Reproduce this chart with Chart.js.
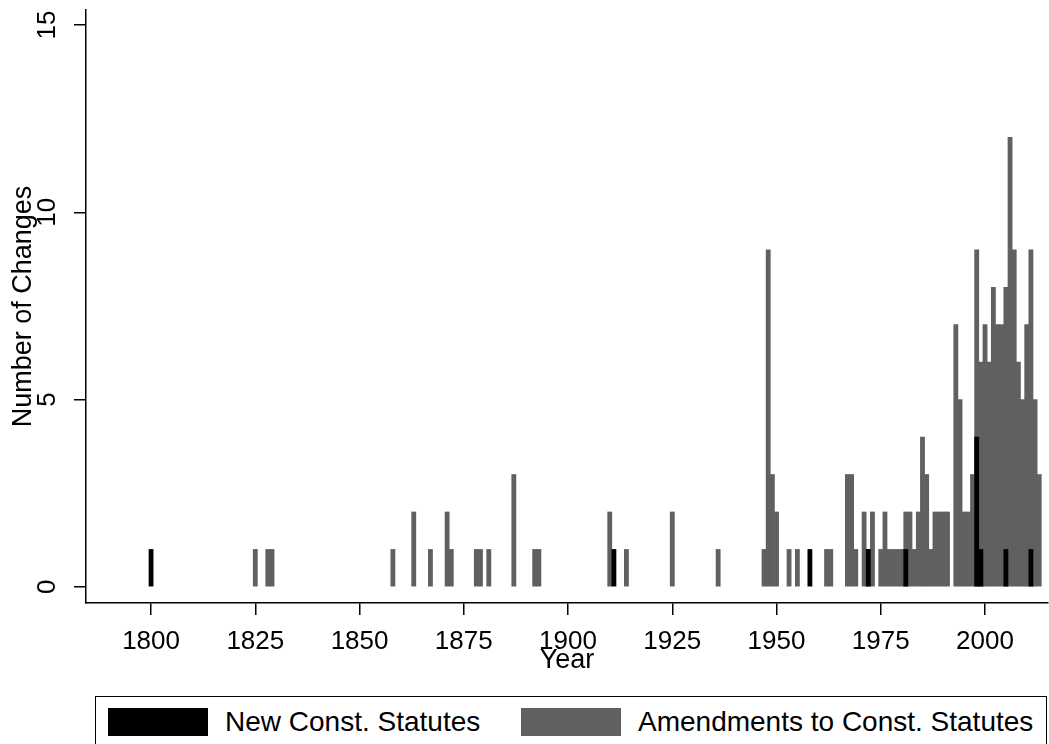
<!DOCTYPE html>
<html>
<head>
<meta charset="utf-8">
<title>Number of Changes by Year</title>
<script src="https://cdn.jsdelivr.net/npm/chart.js@4.4.1/dist/chart.umd.min.js"></script>
<style>
  body { margin: 0; background: #fff; overflow: hidden; }
  #wrap { position: relative; width: 1049px; height: 744px; overflow: hidden; }
  #chart-box { position: absolute; left: 0; top: 0; width: 1049px; height: 690px; }
  #legend {
    position: absolute; left: 95px; top: 696px; width: 952px; height: 70px;
    border: 1.5px solid #000; box-sizing: border-box;
    font-family: "Liberation Sans", Arial, sans-serif; font-size: 28px; color: #000;
  }
  #legend .swatch { position: absolute; top: 11px; width: 100px; height: 28px; }
  #legend .label { position: absolute; top: 11px; height: 28px; line-height: 28px; white-space: nowrap; }
</style>
</head>
<body>
<div id="wrap">
  <div id="chart-box"><canvas id="changes-chart" width="1049" height="690"></canvas></div>
  <div id="legend">
    <div class="swatch" style="left:12px; background:#000"></div>
    <div class="label" style="left:129px">New Const. Statutes</div>
    <div class="swatch" style="left:425px; background:#606060"></div>
    <div class="label" style="left:542px">Amendments to Const. Statutes</div>
  </div>
</div>
<script>
// yearly counts of new constitutional statutes
const newYears = [1800, 1911, 1958, 1972, 1981, 1998, 1999, 2005, 2011];
const newCounts = [1, 1, 1, 1, 1, 4, 1, 1, 1];

// yearly counts of amendments to constitutional statutes
const amendYears = [
  1825, 1828, 1829, 1858, 1863, 1867, 1871, 1872, 1878, 1879, 1881, 1887, 1892, 1893,
  1910, 1914, 1925, 1936, 1947, 1948, 1949, 1950, 1953, 1955, 1962, 1963,
  1967, 1968, 1969, 1971, 1972, 1973, 1975, 1976, 1977, 1978, 1979, 1980,
  1981, 1982, 1983, 1984, 1985, 1986, 1987, 1988, 1989, 1990, 1991,
  1993, 1994, 1995, 1996, 1997, 1998, 1999, 2000, 2001, 2002, 2003, 2004,
  2005, 2006, 2007, 2008, 2009, 2010, 2011, 2012, 2013
];
const amendCounts = [
  1, 1, 1, 1, 2, 1, 2, 1, 1, 1, 1, 3, 1, 1,
  2, 1, 2, 1, 1, 9, 3, 2, 1, 1, 1, 1,
  3, 3, 1, 2, 1, 2, 1, 2, 1, 1, 1, 1,
  2, 2, 1, 2, 4, 3, 1, 2, 2, 2, 2,
  7, 5, 2, 2, 3, 9, 6, 7, 6, 8, 7, 7,
  8, 12, 9, 6, 5, 7, 9, 5, 3
];

const yearTicks = [1800, 1825, 1850, 1875, 1900, 1925, 1950, 1975, 2000];
const countTicks = [0, 5, 10, 15];

Chart.defaults.font.family = '"Liberation Sans", Arial, sans-serif';
Chart.defaults.color = "#000";

function toPoints(years, counts) {
  return years.map((yr, i) => ({ x: yr, y: counts[i] }));
}

const changesChart = new Chart(document.getElementById("changes-chart"), {
  type: "bar",
  data: {
    datasets: [
      {
        label: "New Const. Statutes",
        data: toPoints(newYears, newCounts),
        backgroundColor: "#000000",
      },
      {
        label: "Amendments to Const. Statutes",
        data: toPoints(amendYears, amendCounts),
        backgroundColor: "#606060",
      },
    ],
  },
  options: {
    responsive: false,
    animation: false,
    devicePixelRatio: 1,
    layout: { padding: { top: 10, right: 1 } },
    datasets: { bar: { barPercentage: 1, categoryPercentage: 1, borderWidth: 0 } },
    plugins: { legend: { display: false }, tooltip: { enabled: false } },
    scales: {
      x: {
        type: "linear",
        stacked: true,
        offset: false,
        min: 1784.4,
        max: 2015.1,
        afterBuildTicks: (s) => { s.ticks = yearTicks.map((v) => ({ value: v })); },
        afterFit: (s) => { s.height = 87; s.paddingLeft = 0; s.paddingRight = 0; },
        ticks: { callback: (v) => String(v), font: { size: 26 }, padding: 11, maxRotation: 0, autoSkip: false },
        grid: { offset: false, drawOnChartArea: false, tickLength: 12, color: "#000", lineWidth: 1.5 },
        border: { color: "#000", width: 1.5 },
        title: { display: true, text: "Year", font: { size: 27 }, padding: { top: 0, bottom: 13 } },
      },
      y: {
        min: -0.43,
        max: 15.4,
        afterBuildTicks: (s) => { s.ticks = countTicks.map((v) => ({ value: v })); },
        afterFit: (s) => { s.width = 86; s.paddingTop = 0; s.paddingBottom = 0; },
        ticks: { minRotation: 90, maxRotation: 90, crossAlign: "center", padding: 12, font: { size: 26 } },
        grid: { drawOnChartArea: false, tickLength: 12, color: "#000", lineWidth: 1.5 },
        border: { color: "#000", width: 1.5 },
        title: { display: true, text: "Number of Changes", font: { size: 27 }, padding: { top: 7, bottom: 0 } },
      },
    },
  },
});
</script>
</body>
</html>
